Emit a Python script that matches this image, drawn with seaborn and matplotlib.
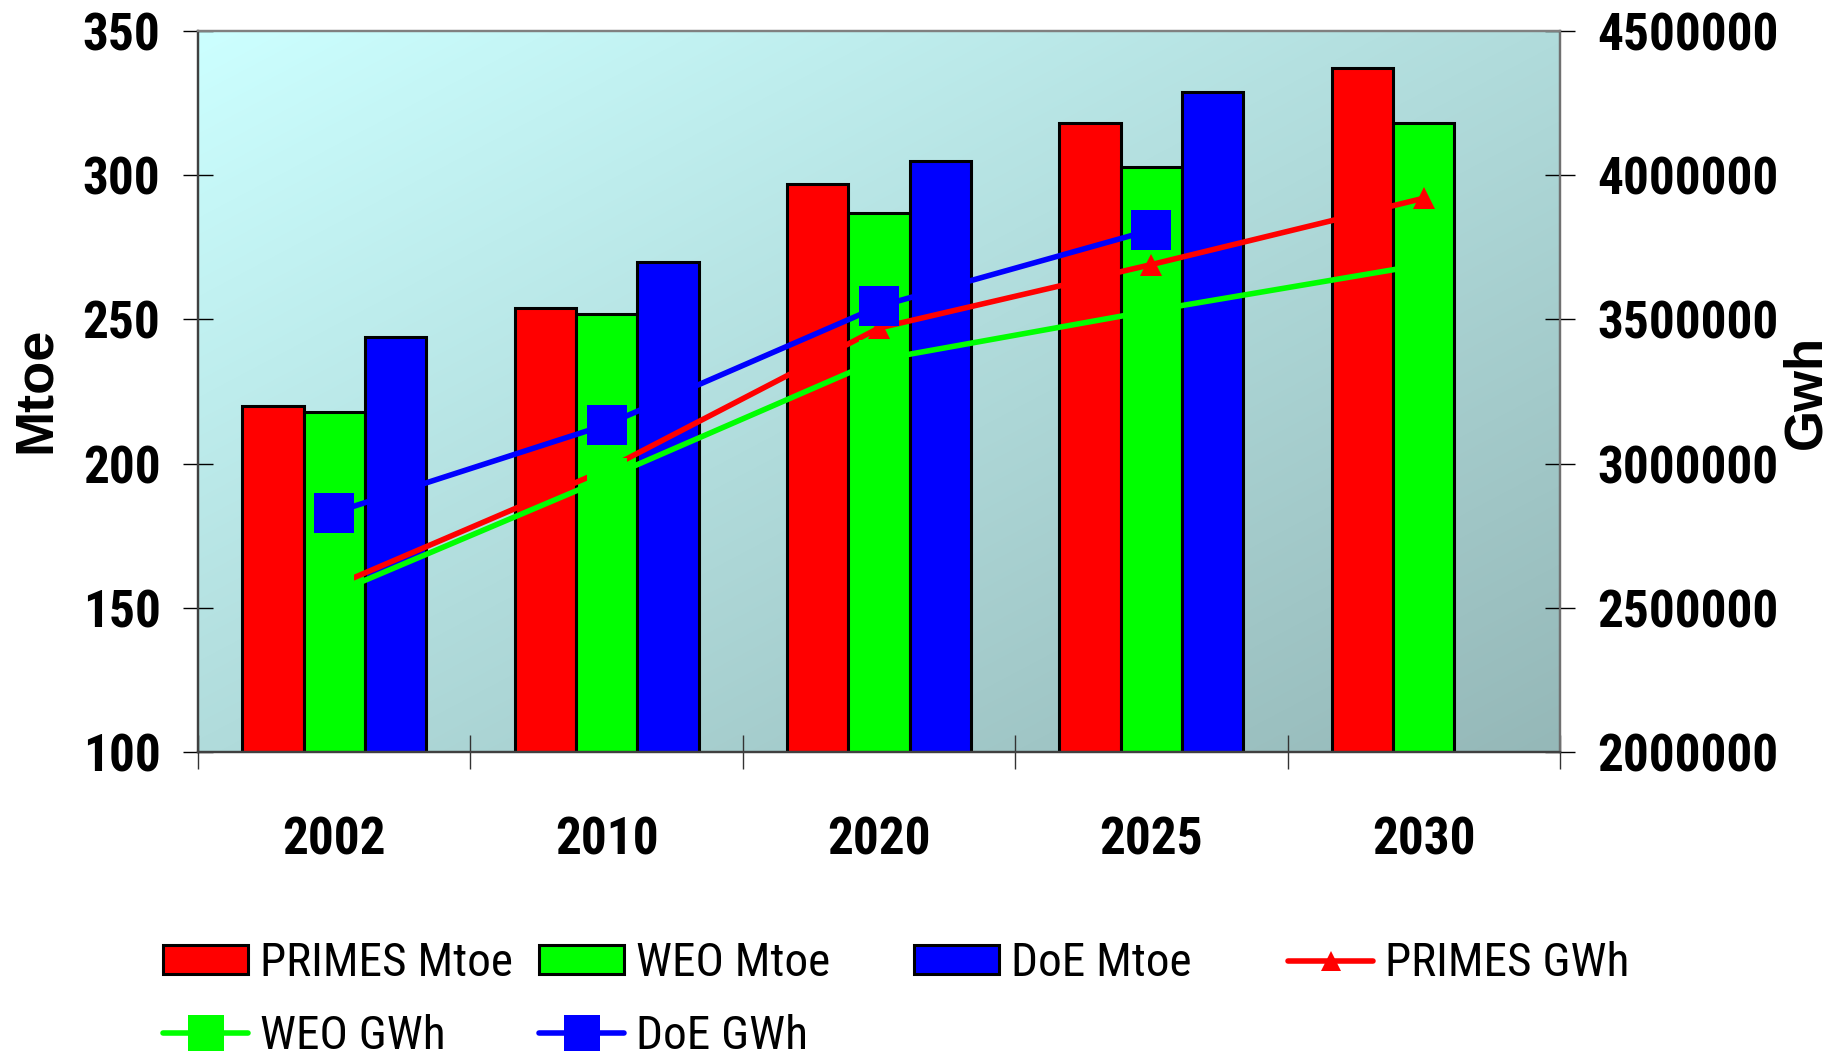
import numpy as np
import pandas as pd
import matplotlib
matplotlib.use("Agg")
import matplotlib.pyplot as plt
import seaborn as sns
from matplotlib.colors import LinearSegmentedColormap
from matplotlib.lines import Line2D
from matplotlib.patches import Patch

# ---- data -------------------------------------------------------------
years = ["2002", "2010", "2020", "2025", "2030"]

primes_mtoe = [220, 254, 297, 318, 337]
weo_mtoe = [218, 252, 287, 303, 318]
doe_mtoe = [244, 270, 305, 329, np.nan]

primes_gwh = [2575000, 2980000, 3470000, 3690000, 3920000]
weo_gwh = [2550000, 2950000, 3360000, 3530000, 3690000]
doe_gwh = [2830000, 3135000, 3545000, 3810000, np.nan]

bar_labels = ["PRIMES Mtoe", "WEO Mtoe", "DoE Mtoe"]
line_labels = ["PRIMES GWh", "WEO GWh", "DoE GWh"]
mtoe_ticks = [100, 150, 200, 250, 300, 350]
gwh_ticks = [2000000, 2500000, 3000000, 3500000, 4000000, 4500000]

# ---- style ------------------------------------------------------------
colors = ["#FF0000", "#00FF00", "#0000FF"]
sns.set_theme(style="white")
NARROW = ["Roboto Condensed", "Liberation Sans", "DejaVu Sans"]
WIDE = ["Liberation Sans", "DejaVu Sans"]
plt.rcParams["font.family"] = NARROW
plt.rcParams.update({"text.color": "black", "xtick.color": "black",
                     "ytick.color": "black", "axes.labelcolor": "black"})

fig = plt.figure(figsize=(18.47, 10.60), dpi=100)
ax = fig.add_axes([0.1072, 0.2906, 0.7374, 0.6802])

# diagonal background gradient inside the plot area
H, W = 200, 400
u = np.linspace(0, 1, W)[None, :]
v = np.linspace(0, 1, H)[:, None]
grad = (u + v) / 2.0
bg_cmap = LinearSegmentedColormap.from_list("bg", ["#CCFFFF", "#95B8B8"])
ax.imshow(grad, extent=(0, 1, 0, 1), transform=ax.transAxes, aspect="auto",
          cmap=bg_cmap, zorder=0, interpolation="bilinear")

# ---- bars (left axis, Mtoe) --------------------------------------------
bars = pd.DataFrame({
    "year": years * 3,
    "value": primes_mtoe + weo_mtoe + doe_mtoe,
    "series": [lab for lab in bar_labels for _ in years],
})
sns.barplot(data=bars, x="year", y="value", hue="series", hue_order=bar_labels,
            order=years, palette=colors, width=0.675, saturation=1,
            edgecolor="black", linewidth=2.2, legend=False, ax=ax)

ax.set_xlim(-0.5, len(years) - 0.5)
ax.set_ylim(mtoe_ticks[0], mtoe_ticks[-1])
ax.set_xlabel("")
ax.set_ylabel("")

# ---- lines (right axis, GWh) -------------------------------------------
ax2 = ax.twinx()
xpos = np.arange(len(years))
line_specs = [
    (primes_gwh, colors[0], "^", 16),
    (weo_gwh, colors[1], "s", 29),
    (doe_gwh, colors[2], "s", 29),
]
for vals, col, mk, ms in line_specs:
    ax2.plot(xpos, vals, color=col, lw=4, marker=mk, markersize=ms,
             markeredgewidth=0, solid_capstyle="round")
ax2.set_ylim(gwh_ticks[0], gwh_ticks[-1])
ax2.set_xlim(-0.5, len(years) - 0.5)

# ---- ticks -------------------------------------------------------------
ax.set_yticks(mtoe_ticks)
ax.set_yticklabels([str(t) for t in mtoe_ticks])
ax2.set_yticks(gwh_ticks)
ax2.set_yticklabels([str(t) for t in gwh_ticks])

ax.set_xticks(xpos)
ax.set_xticklabels(years)
ax.set_xticks(np.arange(-0.5, len(years)), minor=True)

TICK_FS = 37
ax.tick_params(axis="y", left=True, direction="inout", length=22, width=1,
               pad=16, labelsize=TICK_FS, color="black")
ax2.tick_params(axis="y", right=True, direction="inout", length=22, width=1,
                pad=16, labelsize=TICK_FS, color="black")
ax.tick_params(axis="x", which="major", bottom=True, length=0, pad=46,
               labelsize=TICK_FS)
ax.tick_params(axis="x", which="minor", bottom=True, direction="inout",
               length=25, width=1, color="#333333")

for lbl in ax.get_yticklabels() + ax2.get_yticklabels() + ax.get_xticklabels():
    lbl.set_fontweight("bold")

for a in (ax, ax2):
    a.spines["left"].set_color("#404040")
    a.spines["bottom"].set_color("#404040")
    a.spines["top"].set_color("#808080")
    a.spines["right"].set_color("#707070")
    for s in a.spines.values():
        s.set_linewidth(1.6)
        s.set_visible(True)

# ---- axis titles -------------------------------------------------------
fig.text(36 / 1847, 1 - 390 / 1060, "Mtoe", rotation=90, ha="center",
         va="center", fontsize=39, fontweight="bold", family=WIDE)
fig.text(1806 / 1847, 1 - 392 / 1060, "Gwh", rotation=90, ha="center",
         va="center", fontsize=38, fontweight="bold", family=WIDE)

# ---- legend ------------------------------------------------------------
patch_h = [Patch(facecolor=c, edgecolor="black", linewidth=2.2) for c in colors]
line_h = [Line2D([], [], color=c, lw=4, marker=mk, markersize=ms * 0.9,
                 markeredgewidth=0)
          for (_, c, mk, ms) in line_specs]

columns = [
    ([patch_h[0], line_h[1]], [bar_labels[0], line_labels[1]], 163),
    ([patch_h[1], line_h[2]], [bar_labels[1], line_labels[2]], 539),
    ([patch_h[2]], [bar_labels[2]], 914),
    ([line_h[0]], [line_labels[0]], 1288),
]
for hs, labs, x0 in columns:
    fig.legend(hs, labs, loc="upper left", bbox_to_anchor=(x0 / 1847, 0.112),
               frameon=False, prop={"size": 34, "family": NARROW},
               handlelength=1.8, handleheight=0.55, handletextpad=0.25,
               labelspacing=0.6, borderpad=0, borderaxespad=0)

fig.savefig("out.png", dpi=100)
